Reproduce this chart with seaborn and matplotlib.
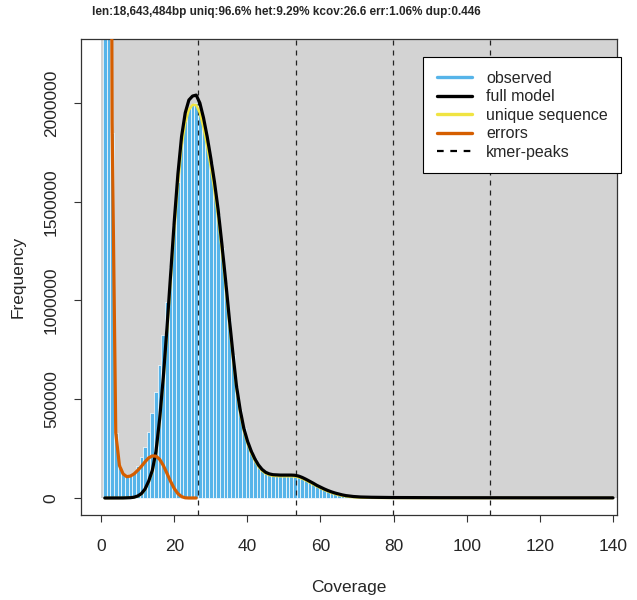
import matplotlib
matplotlib.use("Agg")
import matplotlib.pyplot as plt
import seaborn as sns
import pandas as pd
from matplotlib.patches import Rectangle
from matplotlib.lines import Line2D

coverage = list(range(1, 141))

observed = [
    30000000, 6000000, 1850000, 330000, 160000, 122000, 110000, 113000, 128000, 160000,
    206000, 260000, 336000, 429000, 538000, 673000, 825000, 994000, 1170000, 1380000,
    1600000, 1790000, 1910000, 1975000, 1995000, 2000000, 1960000, 1890000, 1800000, 1695000,
    1570000, 1435000, 1265000, 1085000, 900000, 725000, 560000, 445000, 352000, 288000,
    238000, 198000, 166000, 143000, 129000, 121000, 117000, 116000, 115000, 115000,
    114000, 114000, 113000, 109000, 101000, 92000, 82000, 72000, 62000, 53000,
    44000, 36000, 29000, 23000, 18000, 14000, 11000, 9000, 7500, 6500,
    5800, 5200, 4800, 4400, 4100, 3800, 3600, 3400, 3200, 3000,
    2900, 2800, 2700, 2600, 2500, 2400, 2300, 2250, 2200, 2150,
    2100, 2050, 2000, 1950, 1900, 1850, 1800, 1750, 1700, 1650,
    1600, 1580, 1560, 1540, 1520, 1500, 1480, 1460, 1440, 1420,
    1400, 1380, 1360, 1340, 1320, 1300, 1280, 1260, 1240, 1220,
    1200, 1190, 1180, 1170, 1160, 1150, 1140, 1130, 1120, 1110,
    1100, 1090, 1080, 1070, 1060, 1050, 1040, 1030, 1020, 1010,
]

full_model = [
    0, 0, 0, 0, 0, 200, 600, 1500, 4000, 10000,
    22000, 45000, 85000, 140000, 235000, 400000, 610000, 860000, 1130000, 1400000,
    1640000, 1830000, 1950000, 2015000, 2035000, 2040000, 2000000, 1925000, 1830000, 1720000,
    1600000, 1460000, 1290000, 1110000, 920000, 740000, 570000, 450000, 355000, 290000,
    240000, 200000, 168000, 145000, 130000, 122000, 118000, 117000, 116000, 116000,
    116000, 116000, 115000, 111000, 104000, 95000, 85000, 75000, 64000, 55000,
    46000, 38000, 31000, 25000, 20000, 15500, 12000, 9500, 7500, 6000,
    5000, 4400, 4000, 3600, 3300, 3000, 2800, 2600, 2400, 2300,
    2200, 2100, 2000, 1950, 1900, 1850, 1800, 1750, 1700, 1650,
    1600, 1560, 1520, 1480, 1440, 1400, 1370, 1340, 1310, 1280,
    1250, 1230, 1210, 1190, 1170, 1150, 1130, 1110, 1090, 1070,
    1050, 1040, 1030, 1020, 1010, 1000, 990, 980, 970, 960,
    950, 940, 930, 920, 910, 900, 890, 880, 870, 860,
    850, 840, 830, 820, 810, 800, 790, 780, 770, 760,
]

unique_seq = [
    0, 0, 0, 0, 0, 200, 600, 1400, 3500, 9000,
    20000, 42000, 80000, 133000, 224000, 385000, 590000, 830000, 1095000, 1355000,
    1590000, 1780000, 1900000, 1965000, 1990000, 1990000, 1950000, 1875000, 1780000, 1675000,
    1555000, 1420000, 1255000, 1080000, 895000, 720000, 555000, 435000, 342000, 278000,
    230000, 191000, 160000, 138000, 124000, 116000, 112000, 111000, 110000, 110000,
    110000, 110000, 109000, 105000, 98000, 89000, 79000, 69000, 59000, 50000,
    41000, 33000, 26000, 20000, 15000, 11000, 8000, 5500, 4000, 3000,
    2200, 1600, 1200, 900, 700, 500, 400, 300, 250, 200,
    150, 120, 100, 80, 60, 50, 40, 30, 20, 10,
    0, 0, 0, 0, 0, 0, 0, 0, 0, 0,
    0, 0, 0, 0, 0, 0, 0, 0, 0, 0,
    0, 0, 0, 0, 0, 0, 0, 0, 0, 0,
    0, 0, 0, 0, 0, 0, 0, 0, 0, 0,
    0, 0, 0, 0, 0, 0, 0, 0, 0, 0,
]

err_coverage = list(range(1, 27))
errors = [
    30000000, 8000000, 1900000, 330000, 165000, 122000, 108000, 111000, 122000, 140000,
    160000, 183000, 203000, 213000, 212000, 196000, 165000, 125000, 84000, 48000,
    22000, 7000, 1000, 0, 0, 0,
]

kmer_peaks = [26.6, 53.2, 79.8, 106.4]

title = "len:18,643,484bp uniq:96.6% het:9.29% kcov:26.6 err:1.06% dup:0.446"

COL_HIST = "#56B4E9"
COL_ERR = "#D55E00"
COL_UNIQ = "#F0E442"

sns.set_style("ticks")
plt.rcParams["font.family"] = ["Liberation Sans", "DejaVu Sans"]

fig = plt.figure(figsize=(6.37, 6.0), dpi=100)
ax = fig.add_axes([0.1272, 0.1417, 0.8414, 0.7933])

# grey background only above y=0 and right of x=0, like the R original
ax.add_patch(Rectangle((0, 0), 1000, 1e9, color="#D3D3D3", zorder=0, lw=0))

df = pd.DataFrame({"coverage": coverage, "observed": observed})
sns.histplot(data=df, x="coverage", weights="observed", discrete=True, shrink=1,
             color=COL_HIST, alpha=1, edgecolor="white", linewidth=0.5, ax=ax, zorder=1)

for p in kmer_peaks:
    ax.axvline(p, color="#222222", lw=0.9, ls=(0, (4, 4)), zorder=2)

sns.lineplot(x=coverage, y=unique_seq, color=COL_UNIQ, lw=1.8, ax=ax, zorder=3)
sns.lineplot(x=coverage, y=full_model, color="black", lw=2.3, ax=ax, zorder=4)
sns.lineplot(x=err_coverage, y=errors, color=COL_ERR, lw=2.3, ax=ax, zorder=5)

ax.set_xlim(-5.5, 141.1)
ax.set_ylim(-86000, 2324000)
ax.set_xticks(range(0, 141, 20))
ax.set_yticks([0, 500000, 1000000, 1500000, 2000000])
ax.set_yticklabels(["0", "500000", "1000000", "1500000", "2000000"], rotation=90, va="center")
ax.tick_params(axis="x", labelsize=12.5, length=5, width=0.8, color="#333333", pad=12)
ax.tick_params(axis="y", labelsize=12.5, length=5, width=0.8, color="#333333", pad=11)
for s in ax.spines.values():
    s.set_color("#333333")
    s.set_linewidth(0.9)
ax.set_xlabel("Coverage", fontsize=12.5, labelpad=19)
ax.set_ylabel("Frequency", fontsize=12.5, labelpad=13)

handles = [
    Line2D([], [], color=COL_HIST, lw=2.4),
    Line2D([], [], color="black", lw=2.4),
    Line2D([], [], color=COL_UNIQ, lw=2.4),
    Line2D([], [], color=COL_ERR, lw=2.4),
    Line2D([], [], color="black", lw=1.6, ls=(0, (3, 3))),
]
labels = ["observed", "full model", "unique sequence", "errors", "kmer-peaks"]
leg = ax.legend(handles, labels, loc="upper left", bbox_to_anchor=(423 / 637, 1 - 57 / 600),
                bbox_transform=fig.transFigure, fontsize=11.5, frameon=True, fancybox=False,
                framealpha=1, edgecolor="black", borderaxespad=0, handlelength=2.2,
                labelspacing=0.22, borderpad=0.85, handletextpad=0.9)
leg.get_frame().set_linewidth(0.8)

fig.text(286 / 637, 1 - 12 / 600, title, ha="center", va="center", fontsize=8.5, fontweight="bold")

fig.savefig("out.png", dpi=100)
